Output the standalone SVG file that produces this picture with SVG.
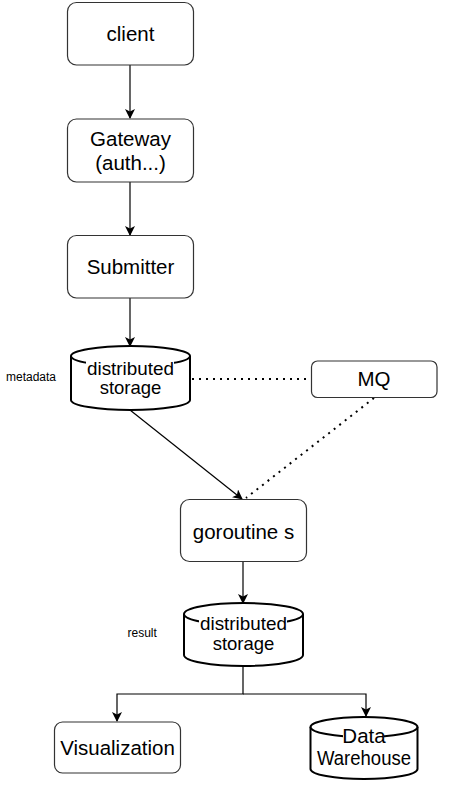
<svg xmlns="http://www.w3.org/2000/svg" width="449" height="793" viewBox="0 0 449 793">
<style>
.box{fill:#fff;stroke:#333;stroke-width:1.2}
.cyl{fill:#fff;stroke:#000;stroke-width:2}
.bg{fill:#fff;stroke:none}
.t{font-family:"Liberation Sans",Arial,sans-serif;font-size:20.5px;fill:#000;text-anchor:middle}
.ct{font-family:"Liberation Sans",Arial,sans-serif;font-size:18.5px;fill:#000;text-anchor:middle}
.s{font-family:"Liberation Sans",Arial,sans-serif;font-size:12px;fill:#000}
.c{fill:none;stroke:#000;stroke-width:1.2}
.d{fill:none;stroke:#000;stroke-width:2;stroke-dasharray:2 5}
</style>
<defs>
<marker id="ar" viewBox="0 0 10 10" refX="9" refY="5" markerWidth="10" markerHeight="10" markerUnits="userSpaceOnUse" orient="auto">
<path d="M0,0 L10,5 L0,10 L2.5,5 Z" fill="#000"/>
</marker>
</defs>
<rect width="449" height="793" fill="#fff"/>
<g id="connectors">
<line class="c" x1="130" y1="65" x2="130" y2="118" marker-end="url(#ar)"/>
<line class="c" x1="130" y1="182" x2="130" y2="235" marker-end="url(#ar)"/>
<line class="c" x1="130" y1="298" x2="130" y2="346" marker-end="url(#ar)"/>
<line class="d" x1="192" y1="379" x2="311" y2="379"/>
<line class="c" x1="130" y1="410" x2="242" y2="499" stroke="#444" marker-end="url(#ar)"/>
<line class="d" x1="374" y1="398" x2="246" y2="498"/>
<line class="c" x1="243" y1="562" x2="243" y2="603" marker-end="url(#ar)"/>
<polyline class="c" points="243,666 243,694 117,694 117,721" marker-end="url(#ar)"/>
<polyline class="c" points="243,694 366,694 366,716" marker-end="url(#ar)"/>
</g>
<g id="client">
<rect class="box" x="67.5" y="2.5" width="126" height="62.5" rx="9"/>
<text class="t" x="130.5" y="41">client</text>
</g>
<g id="gateway">
<rect class="box" x="67.5" y="119" width="126" height="63" rx="9"/>
<text class="t" x="130.5" y="145.5">Gateway</text>
<text class="t" x="130.5" y="169.5">(auth...)</text>
</g>
<g id="submitter">
<rect class="box" x="67.5" y="235.5" width="126" height="62.5" rx="9"/>
<text class="t" x="130.5" y="274">Submitter</text>
</g>
<g id="metadata-storage">
<path class="cyl" d="M71,356 A59.5,10 0 0 1 190,356 L190,400 A59.5,10 0 0 1 71,400 Z"/>
<path class="cyl" d="M71,356 A59.5,10 0 0 0 190,356"/>
<rect class="bg" x="86" y="359" width="88" height="19"/>
<text class="ct" x="130.5" y="375" textLength="87" lengthAdjust="spacingAndGlyphs">distributed</text>
<text class="ct" x="130.5" y="394">storage</text>
<text class="s" x="6" y="381">metadata</text>
</g>
<g id="mq">
<rect class="box" x="311.5" y="361" width="125.5" height="36.5" rx="6"/>
<text class="t" x="374" y="386">MQ</text>
</g>
<g id="goroutines">
<rect class="box" x="180.5" y="499.5" width="126" height="62" rx="9"/>
<text class="t" x="243.5" y="538.5">goroutine s</text>
</g>
<g id="result-storage">
<path class="cyl" d="M184,614 A59.5,11 0 0 1 303,614 L303,655 A59.5,11 0 0 1 184,655 Z"/>
<path class="cyl" d="M184,614 A59.5,11 0 0 0 303,614"/>
<rect class="bg" x="199" y="614" width="88" height="19"/>
<text class="ct" x="243.5" y="630" textLength="87" lengthAdjust="spacingAndGlyphs">distributed</text>
<text class="ct" x="243.5" y="649.5">storage</text>
<text class="s" x="127.5" y="637">result</text>
</g>
<g id="visualization">
<rect class="box" x="54.5" y="722" width="126" height="51" rx="8"/>
<text class="t" x="117.5" y="755">Visualization</text>
</g>
<g id="data-warehouse">
<path class="cyl" d="M310.5,727 A53.5,10 0 0 1 417.5,727 L417.5,769 A53.5,10 0 0 1 310.5,769 Z"/>
<path class="cyl" d="M310.5,727 A53.5,10 0 0 0 417.5,727"/>
<rect class="bg" x="343" y="727" width="41" height="18"/>
<text class="t" x="364" y="742.5">Data</text>
<text class="t" x="364" y="764.5" textLength="94" lengthAdjust="spacingAndGlyphs">Warehouse</text>
</g>
</svg>
